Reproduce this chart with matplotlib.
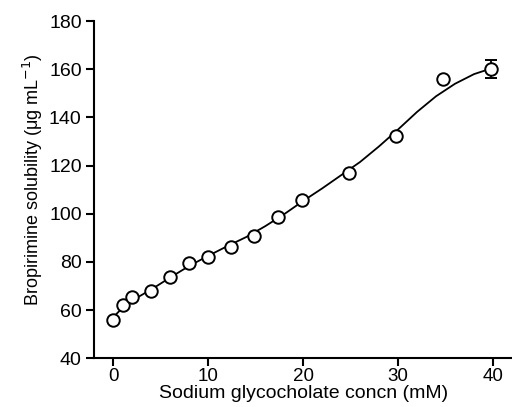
import matplotlib
matplotlib.use("Agg")
import matplotlib.pyplot as plt

plt.rcParams["font.family"] = ["Liberation Sans", "DejaVu Sans"]

# measured points
conc = [0, 1, 2, 4, 6, 8, 10, 12.4, 14.8, 17.4, 19.9, 24.8, 29.8, 34.7, 39.8]
solubility = [55.8, 61.9, 65.5, 67.8, 73.6, 79.6, 82.1, 86.2, 90.9, 98.5, 105.8, 116.8, 132.2, 156.0, 160.0]
err = [0] * 14 + [3.8]

# fitted curve
fit_x = [0, 1, 2, 4, 6, 8, 10, 12, 14, 16, 18, 20, 22, 24, 26, 28, 30, 32, 34, 36, 38, 40]
fit_y = [57, 61, 64, 68.5, 73.5, 78.3, 82.5, 86.5, 90.3, 94.8, 99.8, 105.3, 110.5, 116,
         121.5, 128, 135, 142.3, 148.8, 154, 158, 160.6]

fig = plt.figure(figsize=(5.12, 4.07), dpi=100)
ax = fig.add_axes([0.184, 0.12, 0.816, 0.828])

ax.plot(fit_x, fit_y, color="black", lw=1.3, zorder=2)
ax.errorbar(conc, solubility, yerr=err, fmt="o", ms=9, mfc="white", mec="black",
            mew=1.4, ecolor="black", elinewidth=1.3, capsize=4.5, capthick=1.3, zorder=3)

ax.set_xlim(-2, 42)
ax.set_ylim(40, 180)
ax.set_xticks([0, 10, 20, 30, 40])
ax.set_yticks(range(40, 181, 20))
for s in ["top", "right"]:
    ax.spines[s].set_visible(False)
for s in ["left", "bottom"]:
    ax.spines[s].set_linewidth(1.5)
ax.tick_params(direction="out", length=6, width=1.5, labelsize=14, pad=3)
ax.tick_params(axis="x", labelsize=13.5, pad=1)

ax.set_xlabel("Sodium glycocholate concn (mM)", fontsize=14, labelpad=0)
ax.set_ylabel("Bropirimine solubility (μg mL$^{-1}$)", fontsize=13, labelpad=3)
ax.yaxis.label.set_y(0.53)

fig.savefig("out.png", dpi=100)
